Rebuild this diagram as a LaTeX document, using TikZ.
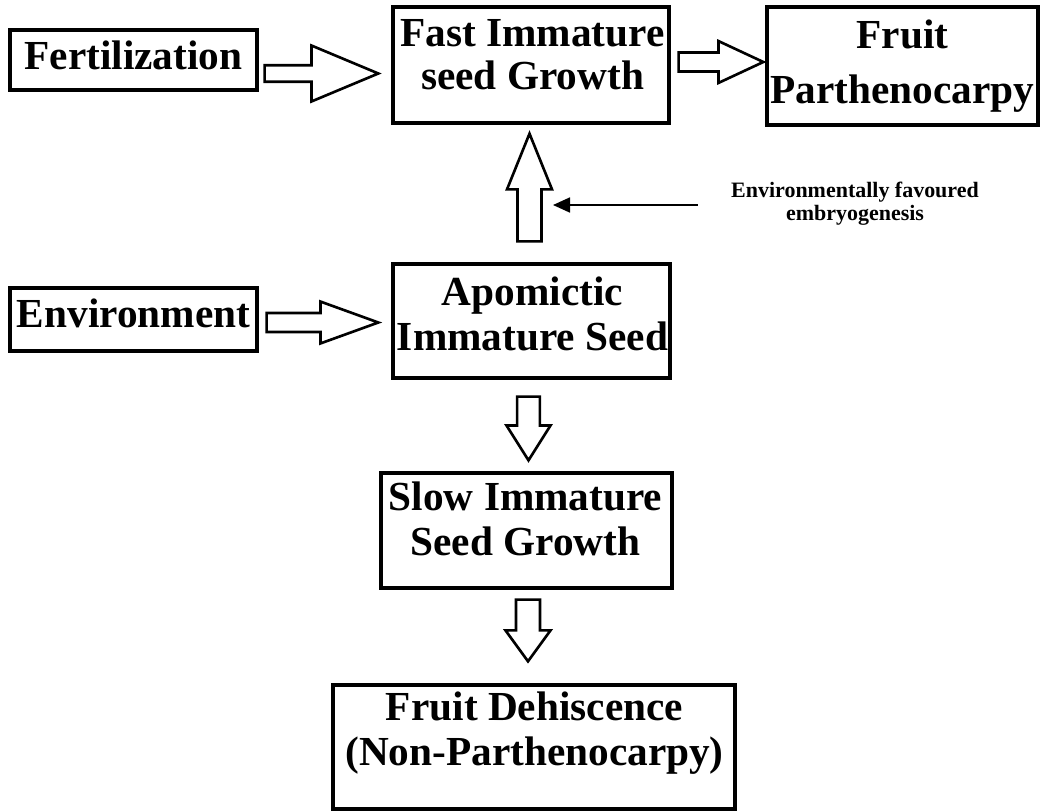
\documentclass[tikz,border=0pt]{standalone}
\usepackage{fontspec}
\setmainfont{Liberation Serif}
\usetikzlibrary{arrows.meta}
\usetikzlibrary{calc}

\newcommand{\bigtxt}{\fontsize{23.5}{25.5}\selectfont\bfseries}
\newcommand{\smalltxt}{\fontsize{12.5}{13}\selectfont\bfseries}

\begin{document}
\begin{tikzpicture}[
  box/.style={shape=rectangle,draw,line width=1.9pt,inner sep=0pt},
  lbl/.style={font=\bigtxt,align=center,inner sep=0pt},
  note/.style={font=\smalltxt,align=center,inner sep=0pt},
  pointer/.style={line width=1pt,-{Triangle[length=3.4mm,width=3mm]}},
  hollow/.style n args={3}{draw,line width=1.5pt,line join=miter,
    to path={let \p1=(\tikztostart), \p2=(\tikztotarget),
      \n1={atan2(\y2-\y1,\x2-\x1)}, \n2={veclen(\x2-\x1,\y2-\y1)} in
      ($(\p1)+(\n1+90:#1)$) -- ($(\p1)+(\n1:\n2-#3)+(\n1+90:#1)$)
      -- ($(\p1)+(\n1:\n2-#3)+(\n1+90:#2)$) -- (\p2)
      -- ($(\p1)+(\n1:\n2-#3)+(\n1-90:#2)$) -- ($(\p1)+(\n1:\n2-#3)+(\n1-90:#1)$)
      -- ($(\p1)+(\n1-90:#1)$) -- cycle}}
]
\useasboundingbox (0,0) rectangle (20.84,-16.22);
% boxes
\draw (2.67,-1.20) node (fert) [box,minimum width=4.94cm,minimum height=1.20cm] {};
\draw (fert.center) ++(0,0.10) node (fertlbl) [lbl] {Fertilization};
\draw (10.62,-1.30) node (fast) [box,minimum width=5.52cm,minimum height=2.32cm] {};
\draw (fast.center) ++(0.03,0.20) node (fastlbl) [lbl] {Fast Immature\\[-1.1pt]seed Growth};
\draw (18.05,-1.32) node (parth) [box,minimum width=5.42cm,minimum height=2.36cm] {};
\draw (parth.center) node (parthlbl) [lbl] {Fruit\\[5.5pt]Parthenocarpy};
\draw (2.67,-6.39) node (env) [box,minimum width=4.94cm,minimum height=1.26cm] {};
\draw (env.center) ++(0,0.12) node (envlbl) [lbl] {Environment};
\draw (10.63,-6.42) node (apo) [box,minimum width=5.54cm,minimum height=2.28cm] {};
\draw (apo.center) ++(0.02,0.14) node (apolbl) [lbl] {Apomictic\\Immature Seed};
\draw (10.53,-10.61) node (slow) [box,minimum width=5.82cm,minimum height=2.30cm] {};
\draw (slow.center) ++(-0.02,0.23) node (slowlbl) [lbl] {Slow Immature\\Seed Growth};
\draw (10.68,-14.94) node (dehis) [box,minimum width=8.04cm,minimum height=2.48cm] {};
\draw (dehis.center) ++(0.01,0.28) node (dehislbl) [lbl] {Fruit Dehiscence\\(Non-Parthenocarpy)};
\draw (17.10,-4.07) node (favlbl) [note] {Environmentally favoured\\embryogenesis};
% block arrows
\draw[hollow={4.7pt}{15.9pt}{38pt}] ([xshift=0.12cm,yshift=-0.27cm]fert.east) to ([xshift=-0.26cm,yshift=-0.17cm]fast.west);
\draw[hollow={5.4pt}{11.9pt}{25.5pt}] ([xshift=0.16cm,yshift=0.06cm]fast.east) to ([xshift=-0.04cm,yshift=0.08cm]parth.west);
\draw[hollow={5.4pt}{11.9pt}{32.9pt}] ([xshift=0.16cm,yshift=-0.06cm]env.east) to ([xshift=-0.26cm,yshift=-0.03cm]apo.west);
\draw[hollow={6.8pt}{12.8pt}{31.7pt}] ([xshift=-0.04cm,yshift=0.42cm]apo.north) to ([xshift=-0.03cm,yshift=-0.18cm]fast.south);
\draw[hollow={6.5pt}{12.5pt}{19.8pt}] ([xshift=-0.06cm,yshift=-0.34cm]apo.south) to ([xshift=0.04cm,yshift=0.22cm]slow.north);
\draw[hollow={6.8pt}{12.8pt}{17.6pt}] ([xshift=0.03cm,yshift=-0.20cm]slow.south) to ([xshift=-0.12cm,yshift=0.44cm]dehis.north);
% thin arrow
\coordinate (favtip) at (11.06,-4.10);
\draw[pointer] (favlbl.west) ++(-0.66,-0.03) -- (favtip);
\end{tikzpicture}
\end{document}
